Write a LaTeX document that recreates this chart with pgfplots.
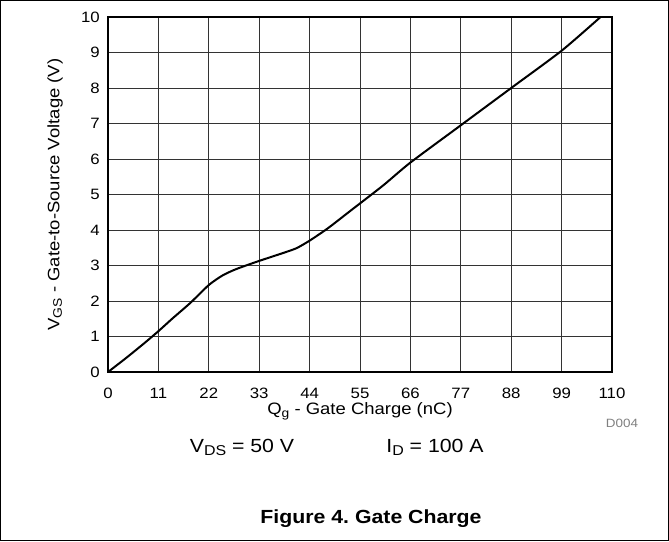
\documentclass[border=0pt]{standalone}
\usepackage{pgfplots}
\pgfplotsset{compat=1.18}
\usepackage{fontspec}
\setmainfont[FakeStretch=1.12]{Liberation Sans}
\newcommand{\sub}[1]{\raisebox{-0.3ex}{\fontsize{0.75em}{1em}\selectfont #1}}
\begin{document}
\begin{tikzpicture}[x=1pt,y=1pt]
\fontsize{15}{18}\selectfont
\useasboundingbox (0,0) rectangle (669,-541);
\draw[line width=1.2pt] (0.6,-0.6) rectangle (668.4,-540.4);
\begin{axis}[
    at={(108pt,-372pt)}, anchor=south west,
    scale only axis,
    width=504pt, height=355pt,
    xmin=0, xmax=110, ymin=0, ymax=10,
    xtick={0,11,...,110}, ytick={0,1,...,10},
    grid=major,
    major grid style={black!80, line width=0.8pt},
    axis line style={line width=2.2pt},
    tick style={draw=none},
    /pgf/number format/assume math mode=true,
    ticklabel style={font=\fontsize{15}{18}\selectfont},
    xticklabel style={anchor=center, yshift=-21pt},
    yticklabel style={anchor=east, xshift=-3pt},
    xlabel={Q\sub{g} - Gate Charge (nC)},
    ylabel={V\sub{GS} - Gate-to-Source Voltage (V)},
    label style={font=\fontsize{16.5}{19}\selectfont},
    xlabel style={at={(axis description cs:0.5,-0.11)}, anchor=center},
    ylabel style={at={(axis description cs:-0.105,0.5)}, anchor=center},
]
\addplot[black, line width=2pt, smooth, tension=0.4] coordinates {
(0,0) (4,0.4) (8,0.82) (11,1.15) (14,1.5) (18,1.95) (22,2.45) (25,2.72)
(28,2.9) (33,3.13) (37,3.3) (41,3.48) (44,3.7) (48,4.05) (53,4.55)
(60,5.25) (66,5.9) (77,6.95) (88,8.0) (99,9.05) (107.5,10)
};
\end{axis}
\node[text=black!50, font=\fontsize{12}{14}\selectfont] at (622,-423) {D004};
\begin{scope}[font=\fontsize{19}{22}\selectfont]
\node at (242,-447) {V\sub{DS} = 50 V};
\node at (435,-447) {I\sub{D} = 100 A};
\node[font=\fontsize{19}{22}\selectfont\bfseries] at (371,-519) {Figure 4.\ Gate Charge};
\end{scope}
\end{tikzpicture}
\end{document}
